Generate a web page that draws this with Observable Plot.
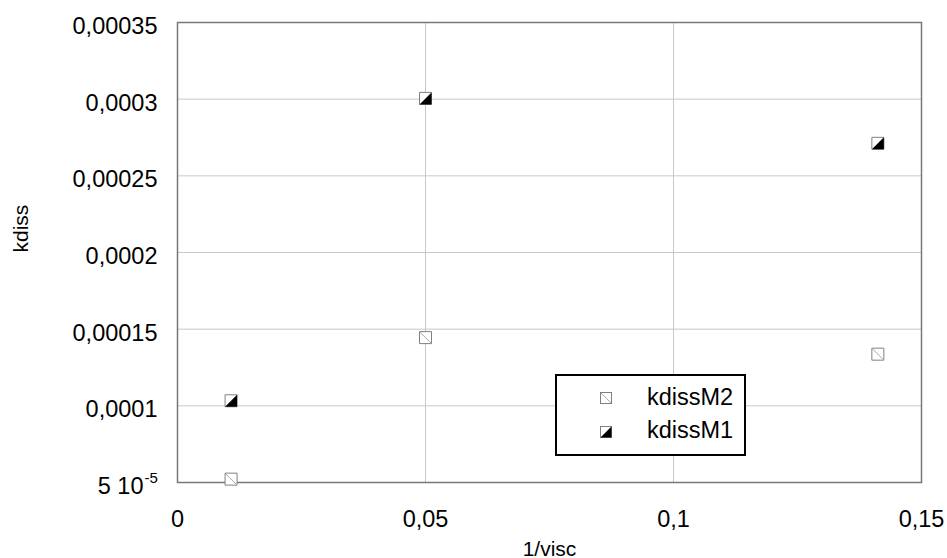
<!DOCTYPE html>
<html>
<head>
<meta charset="utf-8">
<script src="https://cdn.jsdelivr.net/npm/d3@7"></script>
<script src="https://cdn.jsdelivr.net/npm/@observablehq/plot@0.6"></script>
<style>
  html, body { margin: 0; padding: 0; background: #fff; }
  #wrap { position: relative; width: 947px; height: 558px; }
  #legend { position: absolute; left: 555px; top: 374px; }
</style>
</head>
<body>
<div id="wrap"></div>
<script>
// ---- data ----
const xValues = [0.0108, 0.05, 0.1412];
const kdissM2 = [0.0000522, 0.0001445, 0.0001337];
const kdissM1 = [0.0001033, 0.0003005, 0.0002712];
const seriesNames = ["kdissM2", "kdissM1"];
const xTicks = [0, 0.05, 0.1, 0.15];
const xTickLabels = ["0", "0,05", "0,1", "0,15"];
const yTicks = [0.00005, 0.0001, 0.00015, 0.0002, 0.00025, 0.0003, 0.00035];
const yTickLabels = ["5 10", "0,0001", "0,00015", "0,0002", "0,00025", "0,0003", "0,00035"];
const xLabel = "1/visc";
const yLabel = "kdiss";

const m2 = xValues.map((x, i) => ({x, y: kdissM2[i]}));
const m1 = xValues.map((x, i) => ({x, y: kdissM1[i]}));

const H = 6;
const sq = {draw(c) { c.moveTo(-H, -H); c.lineTo(H, -H); c.lineTo(H, H); c.lineTo(-H, H); c.closePath(); }};
const tri = {draw(c) { c.moveTo(H, -H); c.lineTo(H, H); c.lineTo(-H, H); c.closePath(); }};
const diag = {draw(c) { c.moveTo(-H + 0.5, -H + 0.5); c.lineTo(H - 0.5, H - 0.5); }};

const font = "'Liberation Sans', Arial, sans-serif";
const yTickObjs = yTicks.map((v, i) => ({v, t: yTickLabels[i]}));
const xTickObjs = xTicks.map((v, i) => ({v, t: xTickLabels[i]}));

const chart = Plot.plot({
  width: 947, height: 558,
  marginLeft: 177, marginRight: 26, marginTop: 22, marginBottom: 76,
  x: {domain: [0, 0.15], axis: null},
  y: {domain: [0.00005, 0.00035], axis: null},
  style: {fontFamily: font, fontSize: "23px", color: "#000", background: "#fff"},
  marks: [
    Plot.gridX(xTicks, {stroke: "#c8c8c8", strokeOpacity: 1, strokeWidth: 1}),
    Plot.gridY(yTicks, {stroke: "#c8c8c8", strokeOpacity: 1, strokeWidth: 1}),
    Plot.frame({stroke: "#777", strokeWidth: 1.5}),
    // x tick labels
    Plot.text(xTickObjs, {x: "v", text: "t", frameAnchor: "bottom", dy: 44, fontSize: 23.5, fill: "#000"}),
    // y tick labels (except 5e-5 which has superscript)
    Plot.text(yTickObjs.slice(1), {y: "v", text: "t", frameAnchor: "left", dx: -20, dy: 4, textAnchor: "end", fontSize: 23.5, fill: "#000"}),
    Plot.text(yTickObjs.slice(0, 1), {y: "v", text: "t", frameAnchor: "left", dx: -34, dy: 11, textAnchor: "end", lineAnchor: "bottom", fontSize: 23.5, fill: "#000"}),
    Plot.text(yTickObjs.slice(0, 1), {y: "v", text: () => "-5", frameAnchor: "left", dx: -33, dy: 0, textAnchor: "start", lineAnchor: "bottom", fontSize: 15, fill: "#000"}),
    // axis labels
    Plot.text([xLabel], {frameAnchor: "bottom", dy: 73, lineAnchor: "bottom", fontSize: 21, fill: "#000"}),
    Plot.text([yLabel], {frameAnchor: "left", dx: -156, rotate: -90, fontSize: 21, fill: "#000"}),
    // kdissM2 markers
    Plot.dot(m2, {x: "x", y: "y", symbol: sq, fill: "#fff", stroke: "#808080", strokeWidth: 1}),
    Plot.dot(m2, {x: "x", y: "y", symbol: diag, fill: "none", stroke: "#a8a8a8", strokeWidth: 1}),
    // kdissM1 markers
    Plot.dot(m1, {x: "x", y: "y", symbol: sq, fill: "#fff", stroke: "#808080", strokeWidth: 1}),
    Plot.dot(m1, {x: "x", y: "y", symbol: tri, fill: "#000", stroke: "none"})
  ]
});
const wrap = document.getElementById("wrap");
wrap.appendChild(chart);

// legend
const ns = "http://www.w3.org/2000/svg";
const leg = document.createElementNS(ns, "svg");
leg.setAttribute("id", "legend");
leg.setAttribute("width", 191);
leg.setAttribute("height", 82);
leg.style.fontFamily = font;
leg.innerHTML = `
  <rect x="1" y="1" width="189" height="80" fill="#fff" stroke="#000" stroke-width="2"/>
  <rect x="45.5" y="18.5" width="11" height="11" fill="#fff" stroke="#808080"/>
  <line x1="46" y1="19" x2="56" y2="29" stroke="#a8a8a8"/>
  <text x="92" y="31" font-size="23.5" fill="#000">${seriesNames[0]}</text>
  <rect x="45.5" y="52.5" width="11" height="11" fill="#fff" stroke="#808080"/>
  <path d="M56.5,52.5 L56.5,63.5 L45.5,63.5 Z" fill="#000"/>
  <text x="92" y="64" font-size="23.5" fill="#000">${seriesNames[1]}</text>
`;
wrap.appendChild(leg);
</script>
</body>
</html>
